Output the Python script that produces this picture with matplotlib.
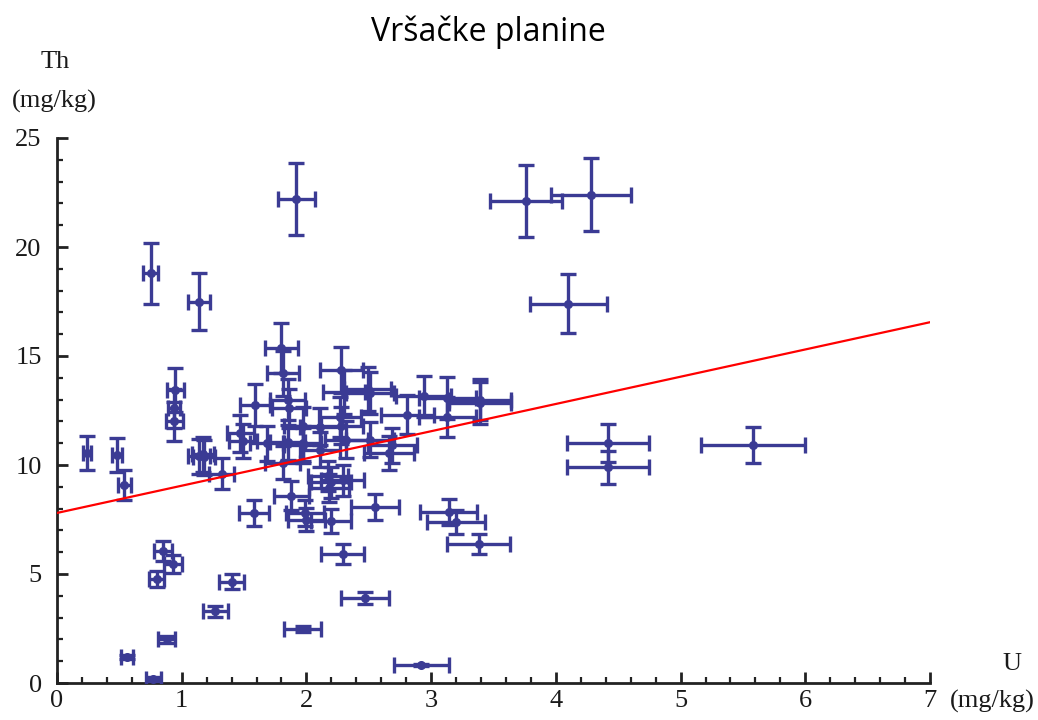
import matplotlib
matplotlib.use("Agg")
import matplotlib.pyplot as plt
import numpy as np

# U (mg/kg), Th (mg/kg) and their uncertainties
u = [0.24, 0.48, 0.54, 0.56, 0.77, 0.75, 0.80, 0.85, 0.88, 0.93,
     0.95, 0.94, 0.94, 1.14, 1.14, 1.17, 1.18, 1.32, 1.27, 1.40,
     1.47, 1.49, 1.58, 1.59, 1.68, 1.80, 1.81, 1.85, 1.86, 1.85,
     1.81, 1.88, 1.92, 1.97, 1.97, 1.99, 2.00, 2.18, 2.17, 2.20,
     2.20, 2.28, 2.30, 2.27, 2.28, 2.32, 2.29, 2.29, 2.47, 1.97,
     2.49, 2.51, 2.51, 2.55, 2.66, 2.69, 2.81, 2.94, 2.92, 3.13,
     3.13, 3.14, 3.20, 3.38, 3.39, 3.39, 3.76, 4.10, 4.28, 4.42,
     4.42, 5.58, 2.11, 2.11, 1.97]
th = [10.55, 10.46, 9.08, 1.20, 0.18, 18.8, 4.77, 6.05, 2.00, 5.45,
      13.44, 12.6, 12.0, 17.5, 10.4, 10.5, 10.35, 9.6, 3.3, 4.65,
      11.45, 11.1, 7.78, 12.75, 11.0, 15.37, 14.2, 13.0, 12.6, 11.05,
      10.1, 8.6, 22.2, 11.8, 11.0, 7.8, 7.5, 8.95, 9.5, 9.2,
      7.42, 14.35, 13.35, 12.2, 11.8, 11.15, 9.3, 5.92, 3.9, 2.48,
      13.5, 13.3, 11.15, 8.08, 10.55, 10.9, 12.3, 13.15, 0.83, 13.07,
      12.2, 7.83, 7.4, 6.38, 13.0, 12.85, 22.1, 17.4, 22.4, 11.0,
      9.9, 10.9, 11.75, 10.7, 10.9]
u_err = [0.03, 0.04, 0.05, 0.05, 0.06, 0.06, 0.06, 0.07, 0.07, 0.07,
         0.07, 0.05, 0.07, 0.09, 0.09, 0.09, 0.09, 0.10, 0.10, 0.10,
         0.11, 0.11, 0.12, 0.12, 0.13, 0.13, 0.13, 0.14, 0.14, 0.14,
         0.14, 0.14, 0.15, 0.15, 0.15, 0.15, 0.15, 0.16, 0.16, 0.16,
         0.16, 0.17, 0.17, 0.17, 0.17, 0.17, 0.17, 0.17, 0.19, 0.15,
         0.19, 0.19, 0.19, 0.19, 0.20, 0.20, 0.21, 0.22, 0.22, 0.23,
         0.23, 0.23, 0.23, 0.25, 0.25, 0.25, 0.29, 0.31, 0.32, 0.33,
         0.33, 0.42, 0.16, 0.16, 0.15]
th_err = [0.8, 0.8, 0.7, 0.1, 0.1, 1.4, 0.35, 0.45, 0.15, 0.4,
          1.0, 0.9, 0.9, 1.3, 0.8, 0.8, 0.8, 0.7, 0.25, 0.35,
          0.85, 0.8, 0.6, 0.95, 0.8, 1.15, 1.05, 0.95, 0.9, 0.8,
          0.75, 0.65, 1.65, 0.85, 0.8, 0.6, 0.55, 0.65, 0.7, 0.7,
          0.55, 1.05, 1.0, 0.9, 0.85, 0.85, 0.7, 0.45, 0.28, 0.15,
          1.0, 0.95, 0.8, 0.6, 0.8, 0.8, 0.9, 0.95, 0.06, 0.95,
          0.9, 0.6, 0.55, 0.47, 0.95, 0.95, 1.66, 1.34, 1.66, 0.86,
          0.75, 0.83, 0.85, 0.8, 0.8]

# regression line Th = a + b*U
line_a = 7.8
line_b = 1.25

x_ticks = [0, 1, 2, 3, 4, 5, 6, 7]
y_ticks = [0, 5, 10, 15, 20, 25]

blue = "#3b3b94"
serif = ["Liberation Serif", "DejaVu Serif"]
txt = "#1a1a1a"

fig = plt.figure(figsize=(10.38, 7.2), dpi=100)
ax = fig.add_axes([57/1038, 1-683/720, (930-57)/1038, (683-138)/720])

ax.errorbar(u, th, xerr=u_err, yerr=th_err, fmt="o", color=blue,
            ms=5.5, elinewidth=2.4, capsize=5.5, capthick=2.4, zorder=3)

xl = np.array([0, 7])
ax.plot(xl, line_a + line_b*xl, color="#ff0000", lw=1.6, zorder=4)

ax.set_xlim(0, 7)
ax.set_ylim(0, 25)
for s in ["top", "right"]:
    ax.spines[s].set_visible(False)
for s in ["left", "bottom"]:
    ax.spines[s].set_linewidth(2.0)
    ax.spines[s].set_color("#222222")

ax.set_xticks(x_ticks)
ax.set_yticks(y_ticks)
ax.set_xticks(np.arange(0, 7.01, 0.2), minor=True)
ax.set_yticks(np.arange(0, 25.01, 1), minor=True)
ax.tick_params(which="major", direction="in", length=8, width=2, color="#222222")
ax.tick_params(which="minor", direction="in", length=4, width=1.6, color="#222222")
ax.tick_params(axis="x", pad=5)
ax.tick_params(axis="y", pad=11)
for lab in ax.get_xticklabels() + ax.get_yticklabels():
    lab.set_fontfamily(serif)
    lab.set_fontsize(19)
    lab.set_color(txt)

fig.text(55/1038, 1-62/720, "Th", family=serif, fontsize=19, ha="center", va="center", color=txt)
fig.text(54/1038, 1-101/720, "(mg/kg)", family=serif, fontsize=19, ha="center", va="center", color=txt)
fig.text(1012/1038, 1-664/720, "U", family=serif, fontsize=19, ha="center", va="center", color=txt)
fig.text(992/1038, 1-701/720, "(mg/kg)", family=serif, fontsize=19, ha="center", va="center", color=txt)

fig.text(488/1038, 1-32/720, "Vršačke planine", family=["Open Sans", "DejaVu Sans"],
         fontsize=23, ha="center", va="center", color="black")

fig.savefig("out.png", dpi=100)
